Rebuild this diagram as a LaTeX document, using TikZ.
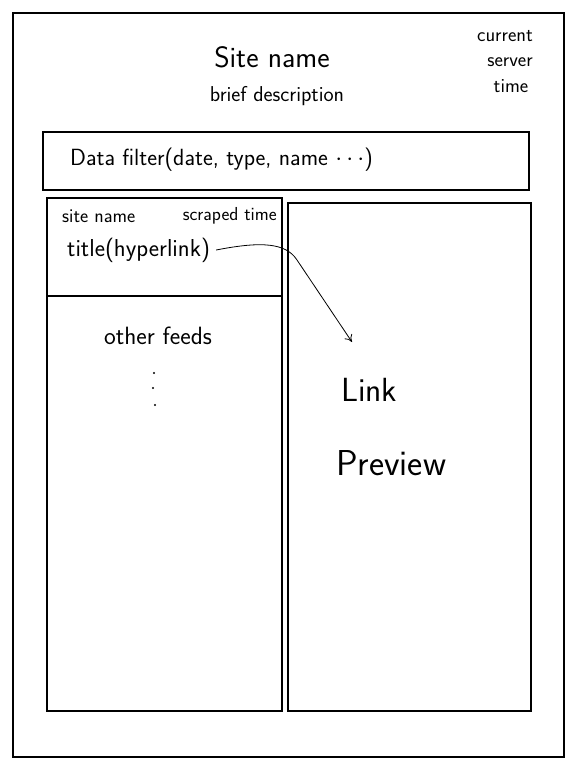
\documentclass[tikz,border=0pt]{standalone}
\usepackage{fontspec}
\usetikzlibrary{arrows.meta}
\begin{document}
\begin{tikzpicture}[x=1pt,y=-1pt,
  frame/.style={draw=black,line width=1.1pt},
  lbl/.style={inner sep=0pt,font=\sffamily},
  dot/.style={circle,fill=black,inner sep=0pt,minimum size=2.2pt},
  arr/.style={draw=black,line width=0.8pt,-{To[length=7pt,width=9pt]}}]
\useasboundingbox (0,0) rectangle (578,768);
% boxes
\draw[frame] (13,13) rectangle (564,757);
\draw[frame] (43,132) rectangle (529,190);
\draw[frame] (47,198) rectangle (282,711);
\draw[frame] (47,296) -- (282,296);
\draw[frame] (288,203) rectangle (531,711);
% texts
\node[lbl,font=\sffamily\fontsize{29.5}{32}\selectfont] (sitename) at (272,57) {Site name};
\node[lbl,font=\sffamily\fontsize{21.5}{24}\selectfont] (brief) at (277,96) {brief description};
\node[lbl,font=\sffamily\fontsize{20}{22}\selectfont] (cur) at (505,36) {current};
\node[lbl,font=\sffamily\fontsize{20}{22}\selectfont] (srv) at (510,62) {server};
\node[lbl,font=\sffamily\fontsize{20}{22}\selectfont] (tim) at (511,86) {time};
\node[lbl,anchor=west,font=\sffamily\fontsize{23.4}{26}\selectfont] (filter) at (70,160) {Data filter(date, type, name $\cdots$)};
\node[lbl,anchor=west,font=\sffamily\fontsize{19.5}{22}\selectfont] (sn) at (62,216) {site name};
\node[lbl,anchor=east,font=\sffamily\fontsize{18.8}{22}\selectfont] (st) at (277,216) {scraped time};
\node[lbl,anchor=west,font=\sffamily\fontsize{24.5}{27}\selectfont] (title) at (67,250) {title(hyperlink)};
\node[lbl,font=\sffamily\fontsize{25}{28}\selectfont] (other) at (158,336) {other feeds};
\node[dot] (d1) at (154,373) {};
\node[dot] (d2) at (153,388) {};
\node[dot] (d3) at (155,405) {};
\node[lbl,anchor=west,font=\sffamily\fontsize{33.5}{36}\selectfont] (link) at (341,390) {Link};
\node[lbl,anchor=west,font=\sffamily\fontsize{36}{40}\selectfont] (prev) at (336,463) {Preview};
% arrow
\coordinate (tip) at (352,342);
\draw[arr] ([xshift=6pt]title.east) .. controls (262,241) and (286,243) .. (297,260) -- (tip);
\end{tikzpicture}
\end{document}
